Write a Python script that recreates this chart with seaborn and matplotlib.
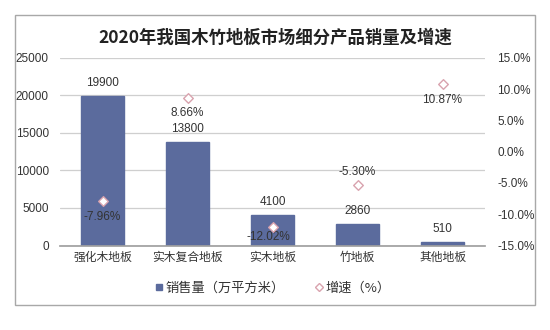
import matplotlib
matplotlib.use("Agg")
import matplotlib.pyplot as plt
import seaborn as sns
import pandas as pd
from matplotlib.patches import Rectangle
from matplotlib.lines import Line2D
from matplotlib.ticker import FuncFormatter, FixedLocator

categories = ["强化木地板", "实木复合地板", "实木地板", "竹地板", "其他地板"]
sales = [19900, 13800, 4100, 2860, 510]
growth = [-7.96, 8.66, -12.02, -5.30, 10.87]
growth_labels = ["-7.96%", "8.66%", "-12.02%", "-5.30%", "10.87%"]
title = "2020年我国木竹地板市场细分产品销量及增速"
legend_labels = ["销售量（万平方米）", "增速（%）"]

sns.set_theme(style="white")
plt.rcParams['font.family'] = ['Liberation Sans', 'Noto Sans CJK SC', 'DejaVu Sans']

df = pd.DataFrame({"cat": categories, "sales": sales, "growth": growth})

bar_color = "#5b6b9d"
mk_edge = "#d9a3ae"
txt = "#333333"

fig = plt.figure(figsize=(5.5, 3.3), dpi=100)
fig.patch.set_facecolor("white")
fig.patches.append(Rectangle((15/550, 1-305/330), 520/550, 290/330, transform=fig.transFigure,
                             fill=False, edgecolor="#a8a8a8", lw=1.0))

ax = fig.add_axes([60/550, 1-245.5/330, 425/550, 187.5/330])
sns.barplot(data=df, x="cat", y="sales", color=bar_color, width=0.5, ax=ax,
            saturation=1, edgecolor=bar_color)
ax.set_xlim(-0.5, 4.5)
ax.set_ylim(0, 25000)
ax.set_yticks(range(0, 25001, 5000))
ax.yaxis.grid(True, color="#cfcfcf", lw=0.9)
ax.set_axisbelow(True)
ax.set_xlabel("")
ax.set_ylabel("")
for s in ["left", "right", "top"]:
    ax.spines[s].set_visible(False)
ax.spines["bottom"].set_color("#a0a0a0")
ax.tick_params(axis="y", length=0, labelsize=8.5, labelcolor=txt, pad=8)
ax.tick_params(axis="x", which="major", length=0, labelsize=8.5, labelcolor=txt, pad=4)
ax.xaxis.set_minor_locator(FixedLocator([-0.5, 0.5, 1.5, 2.5, 3.5, 4.5]))
ax.tick_params(axis="x", which="minor", length=3, color="#a0a0a0", direction="out")
for lab in ax.get_xticklabels():
    lab.set_family(['Noto Sans CJK SC', 'DejaVu Sans'])

for i, v in enumerate(sales):
    ax.annotate(f"{v}", (i, v), xytext=(0, 5), textcoords="offset points",
                ha="center", va="bottom", fontsize=8.5, color=txt)

ax2 = ax.twinx()
sns.scatterplot(x=list(range(len(growth))), y=growth, ax=ax2, marker="D", s=24,
                facecolor="white", edgecolor=mk_edge, linewidth=1.0, zorder=5)
ax2.set_ylim(-15, 15)
ax2.set_yticks(range(-15, 16, 5))
ax2.yaxis.set_major_formatter(FuncFormatter(lambda v, p: f"{v:.1f}%"))
ax2.tick_params(axis="y", length=0, labelsize=8.5, labelcolor=txt, pad=9)
for s in ["left", "right", "top", "bottom"]:
    ax2.spines[s].set_visible(False)
ax2.set_xlim(-0.5, 4.5)

offsets = [(0, -7), (0, -7), (-3, -3), (0, 5), (0, -7)]
for i, (g, lab) in enumerate(zip(growth, growth_labels)):
    dx, dy = offsets[i]
    ax2.annotate(lab, (i, g), xytext=(dx, dy), textcoords="offset points",
                 ha="center", va="top" if dy < 0 else "bottom", fontsize=8.5, color=txt)

fig.text(0.5, 1-38/330, title, ha="center", va="center", fontsize=12.5,
         fontweight="bold", color="#222222", family=['Noto Sans CJK SC', 'DejaVu Sans'])

handles = [Line2D([], [], marker="s", color="none", markerfacecolor=bar_color,
                  markeredgecolor=bar_color, markersize=4),
           Line2D([], [], marker="D", color="none", markerfacecolor="white",
                  markeredgecolor=mk_edge, markersize=4)]
fig.legend(handles, legend_labels, loc="center", bbox_to_anchor=(0.495, 1-288/330),
           ncol=2, frameon=False, handletextpad=0.1, columnspacing=2.2,
           handlelength=0.8, labelcolor=txt,
           prop={"family": ['Noto Sans CJK SC', 'DejaVu Sans'], "size": 9.5})

fig.savefig("out.png", dpi=100, facecolor="white")
